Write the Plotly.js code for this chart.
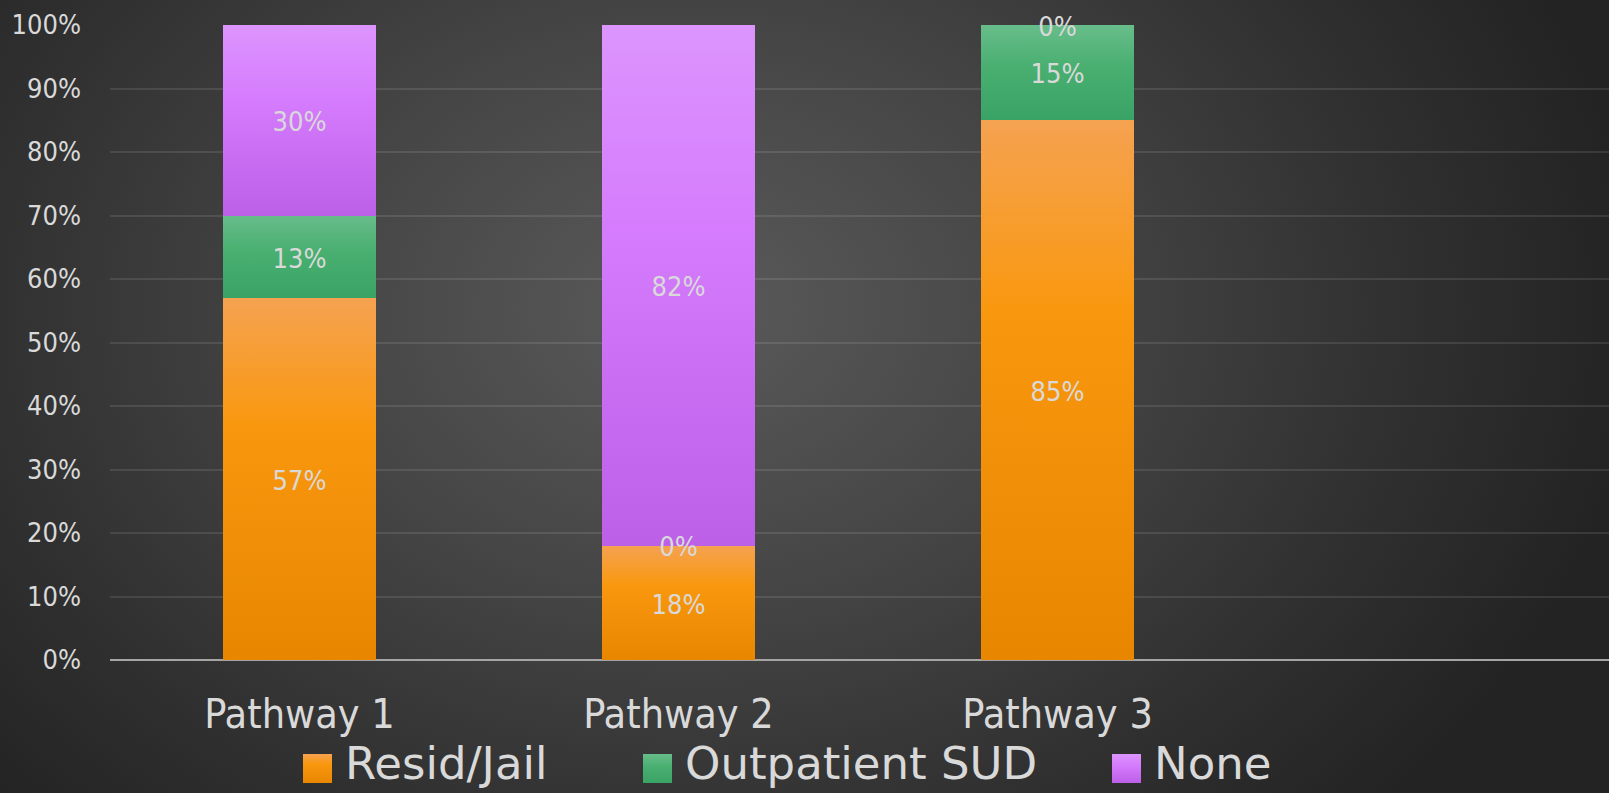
<!DOCTYPE html>
<html>
<head>
<meta charset="utf-8">
<script src="https://cdn.plot.ly/plotly-3.0.1.min.js"></script>
<style>
  html, body { margin:0; padding:0; width:1609px; height:793px; overflow:hidden;
    background: radial-gradient(ellipse 950px 720px at 690px 310px, #5a5a5a 0%, #454545 40%, #303030 75%, #232323 100%); }
  #chart { width:1609px; height:793px; }
</style>
</head>
<body>
<div id="chart"></div>
<script>
// ---- data ----
const categories = ['Pathway 1', 'Pathway 2', 'Pathway 3'];
const seriesNames = ['Resid/Jail', 'Outpatient SUD', 'None'];
const residJail = [57, 18, 85];
const outpatientSUD = [13, 0, 15];
const none = [30, 82, 0];
const yTickVals = [0, 10, 20, 30, 40, 50, 60, 70, 80, 90, 100];
const yTickText = ['0%', '10%', '20%', '30%', '40%', '50%', '60%', '70%', '80%', '90%', '100%'];

// ---- style ----
const FONT = '"DejaVu Sans Condensed", "DejaVu Sans", sans-serif';
const FONT_WIDE = '"DejaVu Sans", sans-serif';
const TXT = '#d9d9d9';
const baseColors = ['#f7960e', '#47ad72', '#d57bfd'];
const gradStops = [
  [['0%', '#f5a251'], ['35%', '#f9980f'], ['100%', '#e88600']],
  [['0%', '#68bd8a'], ['45%', '#48af70'], ['100%', '#39a365']],
  [['0%', '#dc95fd'], ['40%', '#d57bfd'], ['100%', '#bc60e8']]
];
const allSeries = [residJail, outpatientSUD, none];

const traces = [];
allSeries.forEach((vals, i) => {
  traces.push({
    type: 'bar', x: categories, y: vals, name: seriesNames[i],
    marker: { color: baseColors[i], line: { width: 0 } },
    width: 0.404, hoverinfo: 'skip', showlegend: false
  });
});
// data labels (centered in each segment, also for zero-height segments)
allSeries.forEach((vals, i) => {
  const ys = vals.map((v, k) => {
    let base = 0;
    for (let j = 0; j < i; j++) base += allSeries[j][k];
    return base + v / 2;
  });
  traces.push({
    type: 'scatter', mode: 'text', x: categories, y: ys,
    text: vals.map(v => v + '%'), textposition: 'middle center',
    textfont: { family: FONT, size: 27, color: TXT },
    hoverinfo: 'skip', showlegend: false, cliponaxis: false
  });
});

// legend (drawn as shapes + annotations to get large swatches)
const W = 1609, H = 793, L = 110, T = 25, B = 133;
const pw = W - L, ph = H - T - B;
const px = x => (x - L) / pw;
const py = y => (H - B - y) / ph;
const legendX = [303, 643, 1112];
const shapes = [], annotations = [];
seriesNames.forEach((n, i) => {
  shapes.push({ type: 'rect', xref: 'paper', yref: 'paper',
    x0: px(legendX[i]), x1: px(legendX[i] + 29), y0: py(783), y1: py(754),
    fillcolor: baseColors[i], line: { width: 0 } });
  annotations.push({ xref: 'paper', yref: 'paper', x: px(legendX[i] + 40), y: py(764),
    xanchor: 'left', yanchor: 'middle', text: n, showarrow: false,
    font: { family: FONT_WIDE, size: 45, color: TXT } });
});

const layout = {
  width: W, height: H,
  margin: { l: L, r: 0, t: T, b: B, pad: 0 },
  paper_bgcolor: 'rgba(0,0,0,0)', plot_bgcolor: 'rgba(0,0,0,0)',
  barmode: 'stack', showlegend: false,
  xaxis: { type: 'category', range: [-0.5, 3.455], showgrid: false, zeroline: false,
    showline: false, ticks: '', ticklabelstandoff: 26,
    tickfont: { family: FONT, size: 41, color: TXT } },
  yaxis: { range: [0, 100], tickvals: yTickVals, ticktext: yTickText,
    showgrid: true, gridcolor: 'rgba(255,255,255,0.1)', gridwidth: 2,
    zeroline: true, zerolinecolor: '#a5a5a5', zerolinewidth: 2,
    showline: false, ticks: '', ticklabelstandoff: 28,
    tickfont: { family: FONT, size: 27, color: TXT } },
  shapes: shapes, annotations: annotations
};

Plotly.newPlot('chart', traces, layout, { staticPlot: true }).then(gd => {
  const svg = gd.querySelector('.main-svg');
  const NS = 'http://www.w3.org/2000/svg';
  const defs = svg.querySelector('defs') || svg.insertBefore(document.createElementNS(NS, 'defs'), svg.firstChild);
  gradStops.forEach((stops, i) => {
    const g = document.createElementNS(NS, 'linearGradient');
    g.setAttribute('id', 'barGrad' + i);
    g.setAttribute('x1', '0'); g.setAttribute('y1', '0');
    g.setAttribute('x2', '0'); g.setAttribute('y2', '1');
    stops.forEach(s => {
      const st = document.createElementNS(NS, 'stop');
      st.setAttribute('offset', s[0]); st.setAttribute('stop-color', s[1]);
      g.appendChild(st);
    });
    defs.appendChild(g);
  });
  gd.querySelectorAll('.barlayer .trace').forEach((tr, i) => {
    tr.querySelectorAll('.point path').forEach(p => { p.style.fill = 'url(#barGrad' + i + ')'; });
  });
  gd.querySelectorAll('.shapelayer path').forEach((p, i) => {
    if (i < 3) p.style.fill = 'url(#barGrad' + i + ')';
  });
  // nudge the value labels slightly down to sit as in the reference
  gd.querySelectorAll('.scatterlayer .trace .textpoint').forEach(t => {
    const tr = t.getAttribute('transform') || '';
    t.setAttribute('transform', (tr + ' translate(0,4)').trim());
  });
});
</script>
</body>
</html>
